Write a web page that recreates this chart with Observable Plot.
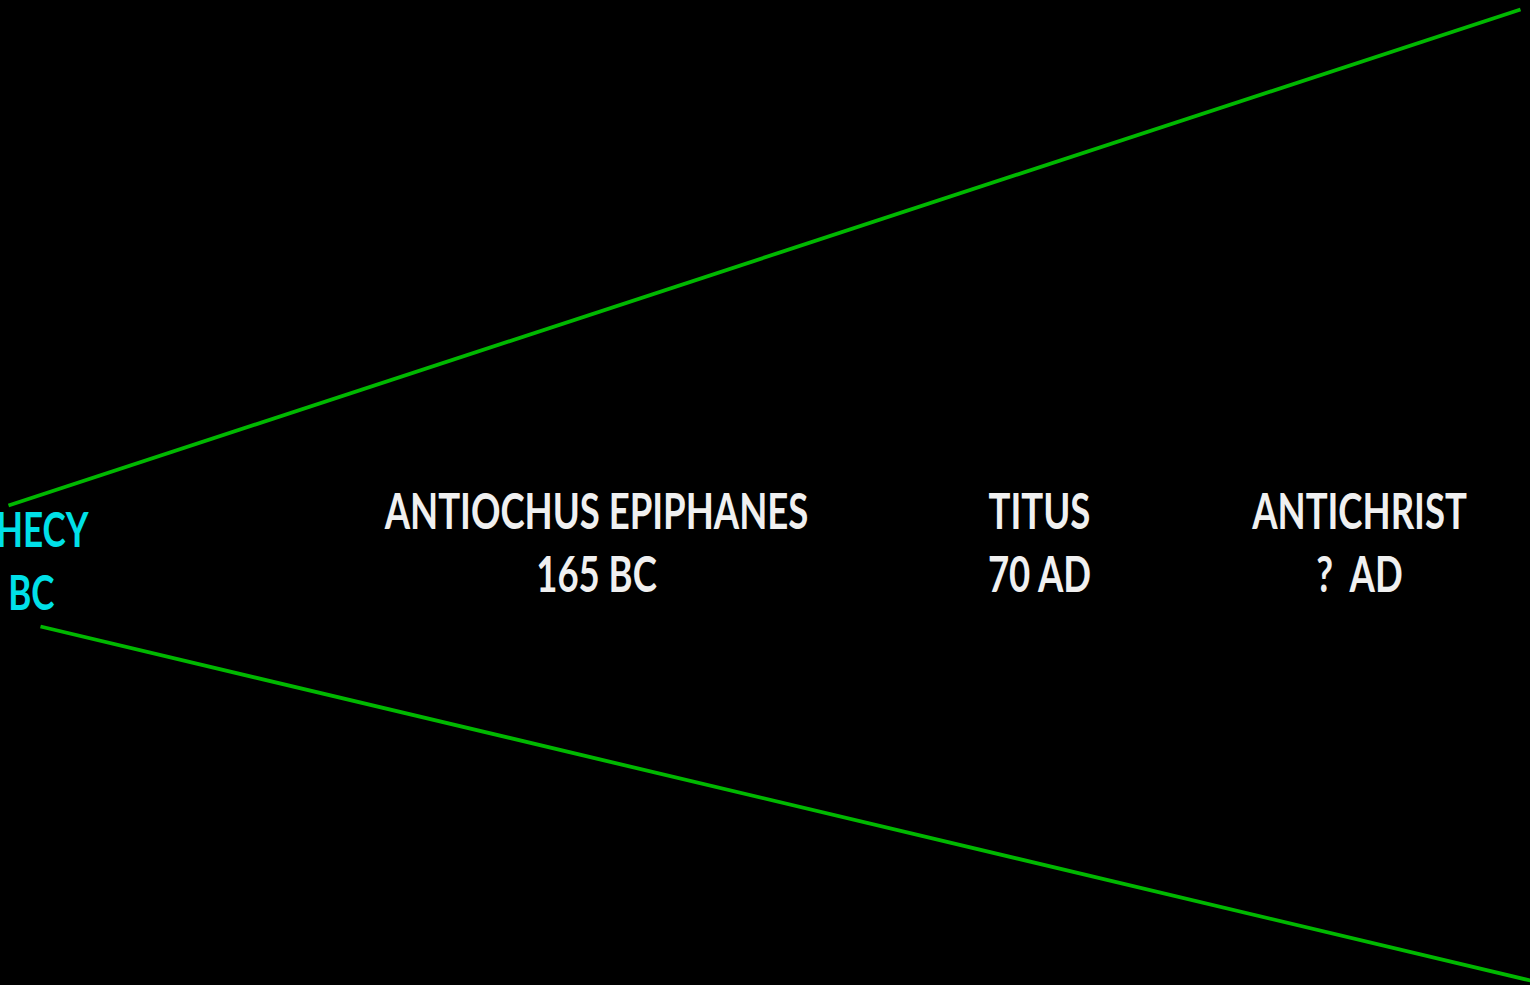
<!DOCTYPE html>
<html>
<head>
<meta charset="utf-8">
<script src="https://cdn.jsdelivr.net/npm/d3@7"></script>
<script src="https://cdn.jsdelivr.net/npm/@observablehq/plot@0.6"></script>
<style>
  html, body { margin: 0; padding: 0; background: #000; overflow: hidden; }
  #chart svg { display: block; background: #000; }
</style>
</head>
<body>
<div id="chart"></div>
<script>
// Diverging "prophecy" rays (diagram units: x 0..1530 across, y 0..985 down)
const rayNames = ["upper", "lower"];
const rayX1 = [8, 40];
const rayY1 = [505, 626];
const rayX2 = [1520, 1530];
const rayY2 = [9, 980];

// White event labels (two lines each)
const eventLine1 = ["ANTIOCHUS EPIPHANES", "TITUS", "ANTICHRIST"];
const eventLine2 = ["165 BC", "70 AD", "?  AD"];
const eventX = [596, 1039, 1359];
const line1Y = [528, 528, 528];
const line2Y = [591, 591, 591];

// Cyan label at the left edge (cut off by the frame)
const leftLine1 = "HECY";
const leftLine2 = "BC";
const leftX1 = 88, leftX2 = 54;
const leftY1 = 546, leftY2 = 609;

const rays = rayNames.map((n, i) => ({n, x1: rayX1[i], y1: rayY1[i], x2: rayX2[i], y2: rayY2[i]}));
const events = eventLine1.flatMap((t, i) => [
  {t, x: eventX[i], y: line1Y[i]},
  {t: eventLine2[i], x: eventX[i], y: line2Y[i]}
]);
const left = [
  {t: leftLine1, x: leftX1, y: leftY1},
  {t: leftLine2, x: leftX2, y: leftY2}
];

const font = "Lato, 'Open Sans', sans-serif";
const plot = Plot.plot({
  width: 1530,
  height: 985,
  margin: 0,
  x: {domain: [0, 1530], range: [0, 1530], axis: null},
  y: {domain: [0, 985], range: [0, 985], axis: null},
  style: {background: "#000"},
  marks: [
    Plot.link(rays, {x1: "x1", y1: "y1", x2: "x2", y2: "y2", stroke: "#00b800", strokeWidth: 3.8}),
    Plot.text(events, {x: "x", y: "y", text: "t", fill: "#f0f0f0", fontSize: 50, fontWeight: "bold",
      fontFamily: font, lineAnchor: "bottom", textAnchor: "middle"}),
    Plot.text(left, {x: "x", y: "y", text: "t", fill: "#00e0e8", fontSize: 48, fontWeight: "bold",
      fontFamily: font, lineAnchor: "bottom", textAnchor: "end"})
  ]
});
document.getElementById("chart").appendChild(plot);

// Condense glyphs horizontally (the original uses a narrow font)
const squeeze = 0.73;
plot.querySelectorAll("text").forEach(el => {
  const len = el.getComputedTextLength();
  if (len > 0) {
    el.setAttribute("textLength", len * squeeze);
    el.setAttribute("lengthAdjust", "spacingAndGlyphs");
  }
});
</script>
</body>
</html>
